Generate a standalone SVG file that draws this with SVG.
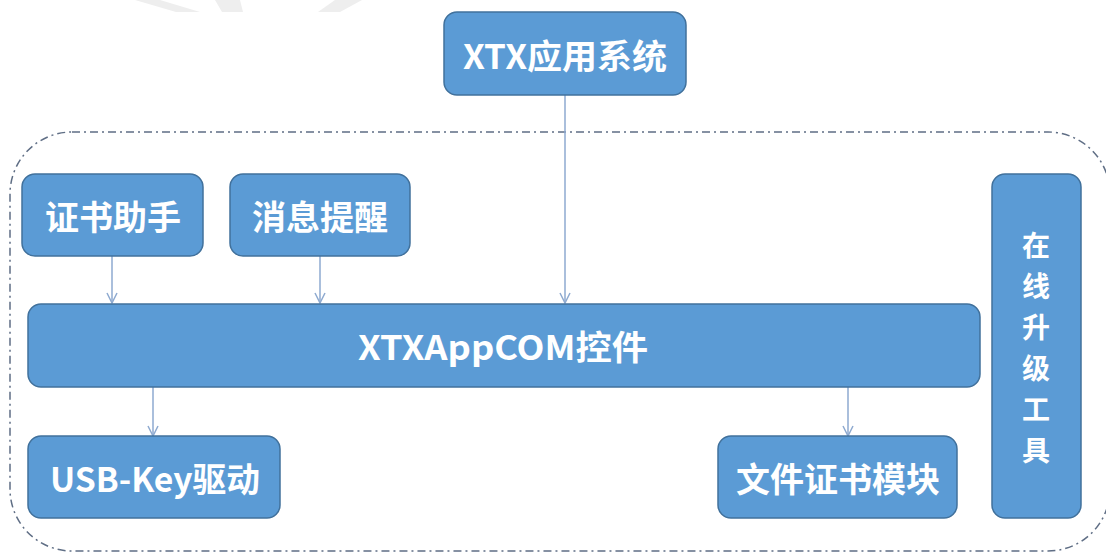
<svg xmlns="http://www.w3.org/2000/svg" width="1106" height="554" viewBox="0 0 1106 554">
<style>
.box{fill:#5B9BD5;stroke:#41719C;stroke-width:1.5}
.t{fill:#fff;font-family:"Noto Sans CJK SC","Noto Sans",sans-serif;font-weight:bold;font-size:34px;text-anchor:middle;dominant-baseline:central}
.v{font-size:28px}
.c{stroke:#8EAAD0;stroke-width:1.5;fill:none}
</style>
<defs>
<marker id="ah" viewBox="0 0 12 12" refX="11" refY="6" markerWidth="12" markerHeight="12" markerUnits="userSpaceOnUse" orient="auto">
<path d="M1,1 L11,6 L1,11" fill="none" stroke="#8EAAD0" stroke-width="1.5"/>
</marker>
</defs>
<rect width="1106" height="554" fill="#fff"/>
<g id="watermark" fill="#EEEEEE">
<polygon points="135,0 160,0 200,12 176,12"/>
<polygon points="215,0 240,0 243,12 222,12"/>
<polygon points="335,0 362,0 340,12 318,12"/>
</g>
<rect id="boundary" x="10" y="132" width="1100" height="419" rx="62" fill="none" stroke="#5F6E85" stroke-width="1.5" stroke-dasharray="8,4,2,4"/>
<g id="connectors">
<line class="c" x1="565" y1="95" x2="565" y2="303" marker-end="url(#ah)"/>
<line class="c" x1="112" y1="256" x2="112" y2="303" marker-end="url(#ah)"/>
<line class="c" x1="320" y1="256" x2="320" y2="303" marker-end="url(#ah)"/>
<line class="c" x1="153" y1="387" x2="153" y2="436" marker-end="url(#ah)"/>
<line class="c" x1="848" y1="387" x2="848" y2="436" marker-end="url(#ah)"/>
</g>
<g id="xtx-app"><rect class="box" x="444" y="12" width="242" height="83" rx="13"/><text class="t" x="565" y="54" textLength="204" lengthAdjust="spacingAndGlyphs">XTX应用系统</text></g>
<g id="cert-helper"><rect class="box" x="22" y="174" width="181" height="82" rx="13"/><text class="t" x="113" y="215">证书助手</text></g>
<g id="msg-remind"><rect class="box" x="230" y="174" width="180" height="82" rx="13"/><text class="t" x="320" y="215">消息提醒</text></g>
<g id="xtx-com"><rect class="box" x="28" y="304" width="952" height="83" rx="13"/><text class="t" x="503" y="345" textLength="290" lengthAdjust="spacingAndGlyphs">XTXAppCOM控件</text></g>
<g id="usb-key"><rect class="box" x="28" y="436" width="252" height="82" rx="13"/><text class="t" x="155" y="477" textLength="210" lengthAdjust="spacingAndGlyphs">USB-Key驱动</text></g>
<g id="file-cert"><rect class="box" x="718" y="436" width="239" height="82" rx="13"/><text class="t" x="838" y="477">文件证书模块</text></g>
<g id="online-update"><rect class="box" x="992" y="174" width="89" height="344" rx="13"/>
<text class="t v" x="1036"><tspan x="1036" y="244">在</tspan><tspan x="1036" y="285">线</tspan><tspan x="1036" y="326">升</tspan><tspan x="1036" y="367">级</tspan><tspan x="1036" y="408">工</tspan><tspan x="1036" y="449">具</tspan></text></g>
</svg>
